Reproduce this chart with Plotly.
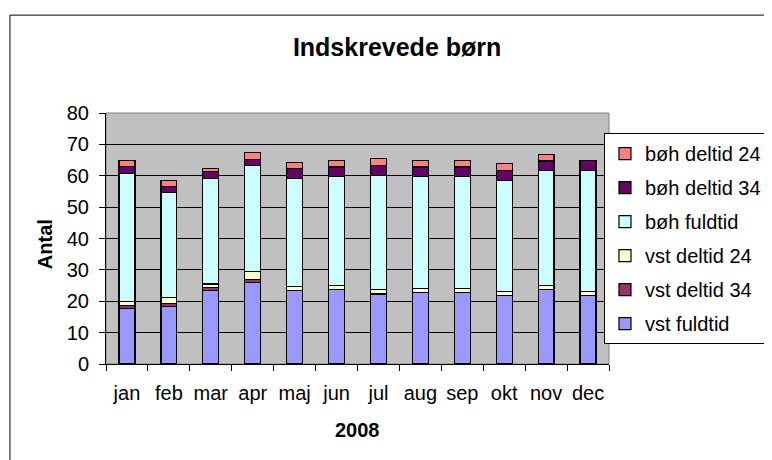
import plotly.graph_objects as go

# Data
months = ["jan", "feb", "mar", "apr", "maj", "jun", "jul", "aug", "sep", "okt", "nov", "dec"]

vst_fuldtid = [17.7, 18.3, 23.4, 26.0, 23.4, 23.8, 22.3, 22.9, 22.9, 21.8, 23.8, 21.8]
vst_deltid_34 = [1.0, 0.9, 0.9, 0.9, 0, 0, 0, 0, 0, 0, 0, 0]
vst_deltid_24 = [1.3, 1.9, 1.2, 2.7, 1.2, 1.3, 1.4, 1.1, 1.1, 1.2, 1.3, 1.2]
boh_fuldtid = [40.6, 33.5, 33.7, 33.6, 34.6, 34.6, 36.4, 35.7, 35.7, 35.6, 36.7, 38.8]
boh_deltid_34 = [2.3, 2.0, 2.1, 2.1, 3.0, 3.1, 3.1, 3.1, 3.1, 3.2, 2.9, 3.1]
boh_deltid_24 = [1.9, 2.0, 1.0, 2.0, 2.0, 2.0, 2.2, 2.0, 2.0, 2.1, 2.2, 0]

series = [
    ("vst fuldtid", vst_fuldtid, "#9999FF"),
    ("vst deltid 34", vst_deltid_34, "#993366"),
    ("vst deltid 24", vst_deltid_24, "#FFFFCC"),
    ("bøh fuldtid", boh_fuldtid, "#CCFFFF"),
    ("bøh deltid 34", boh_deltid_34, "#660066"),
    ("bøh deltid 24", boh_deltid_24, "#FF8080"),
]

FONT = "Liberation Sans, Arial, sans-serif"

fig = go.Figure()

# stacked bottom-up, legend listed top-down (last series first)
for i, (name, values, colour) in enumerate(series):
    fig.add_trace(go.Bar(
        x=months,
        y=values,
        name=name,
        legendgroup=name,
        legendrank=len(series) - i,
        marker=dict(color=colour, line=dict(color="black", width=1.2)),
    ))

# the page body adds an 8px offset, so positions below are shifted by -8
fig.update_layout(
    width=772,
    height=460,
    margin=dict(l=98, r=171, t=105, b=104, autoexpand=False),
    barmode="stack",
    bargap=0.62,
    paper_bgcolor="white",
    plot_bgcolor="#C0C0C0",
    font=dict(family=FONT, size=20, color="black"),
    title=dict(
        text="<b>Indskrevede børn</b>",
        x=0.504, xanchor="center",
        y=0.915, yanchor="middle",
        font=dict(size=25, family=FONT, color="black"),
    ),
    legend=dict(
        xref="container", yref="container",
        x=0.772, xanchor="left",
        y=0.728, yanchor="top",
        traceorder="grouped",
        tracegroupgap=5,
        bordercolor="black",
        borderwidth=1,
        bgcolor="white",
        font=dict(size=20, family=FONT),
    ),
    showlegend=True,
)

fig.update_xaxes(
    type="category",
    tickangle=0,
    showline=True, linecolor="black", linewidth=1,
    ticks="outside", tickson="boundaries", ticklen=6, tickcolor="black",
    ticklabelstandoff=11,
    showgrid=False,
)

fig.update_yaxes(
    range=[0, 80], dtick=10,
    showline=True, linecolor="black", linewidth=1,
    ticks="outside", ticklen=6, tickcolor="black",
    ticklabelstandoff=6,
    showgrid=True, gridcolor="black", gridwidth=1,
    zeroline=False,
)

# gray border on the plot area and the outer chart frame
fig.add_shape(type="rect", xref="paper", yref="paper", x0=0, x1=1, y0=0, y1=1,
              line=dict(color="#808080", width=1), layer="below")
fig.add_shape(type="rect", xref="paper", yref="paper", x0=-0.191, x1=1.7, y0=-0.6, y1=1.39,
              line=dict(color="black", width=1))

# axis titles
fig.add_annotation(text="<b>Antal</b>", xref="paper", yref="paper", x=-0.121, y=0.478,
                   xanchor="center", yanchor="middle",
                   textangle=-90, showarrow=False, font=dict(size=20, family=FONT))
fig.add_annotation(text="<b>2008</b>", xref="paper", yref="paper", x=0.5, y=-0.263,
                   xanchor="center", yanchor="middle",
                   showarrow=False, font=dict(size=20, family=FONT))

fig.write_html("out.html")
